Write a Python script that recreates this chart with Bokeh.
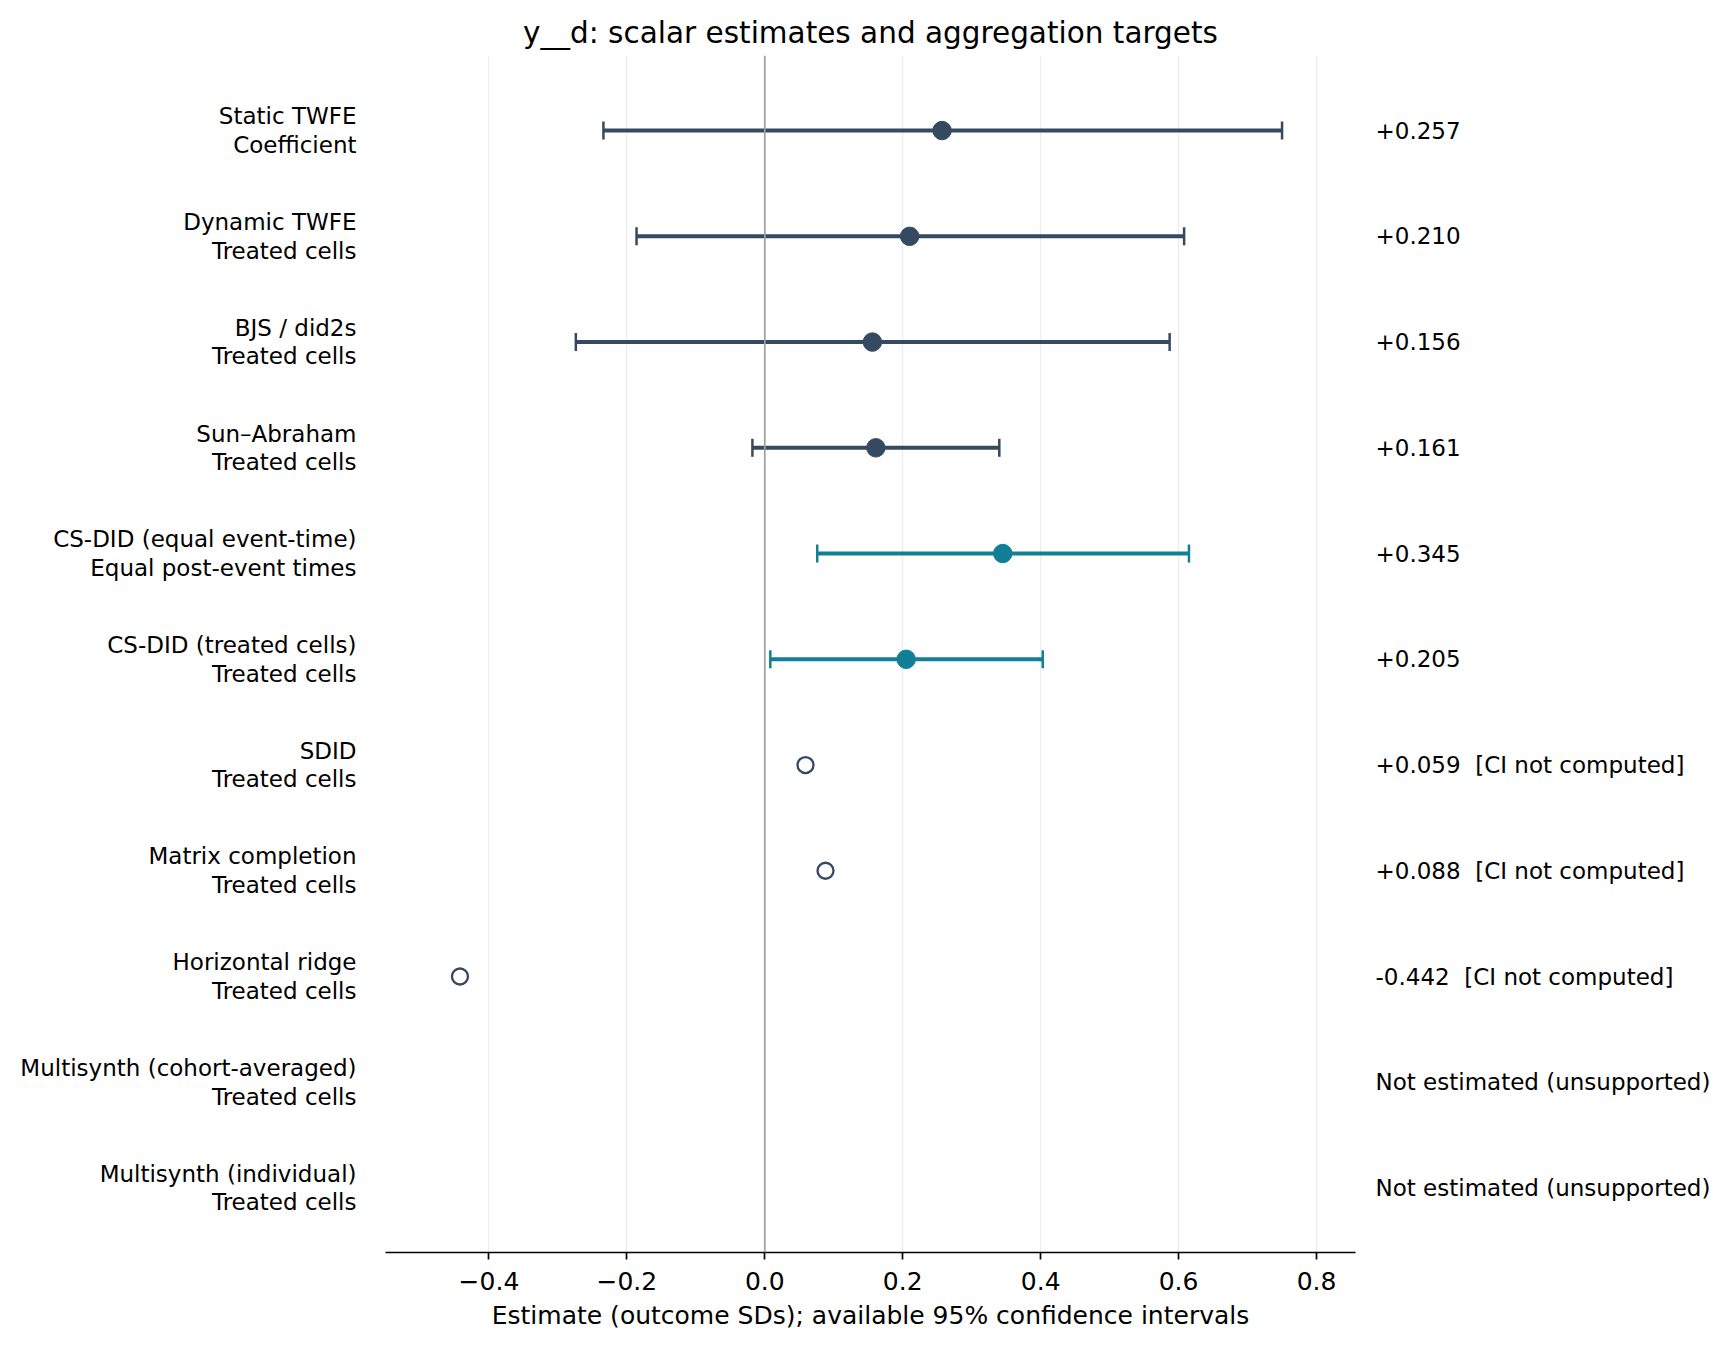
import math
from bokeh.plotting import figure
from bokeh.models import (ColumnDataSource, Range1d, FixedTicker, Span, Whisker,
                          TeeHead, LinearAxis)
from bokeh.embed import file_html
from bokeh.resources import INLINE

nan = float("nan")

# ---- data ----
methods = ["Static TWFE", "Dynamic TWFE", "BJS / did2s", "Sun\u2013Abraham",
           "CS-DID (equal event-time)", "CS-DID (treated cells)", "SDID",
           "Matrix completion", "Horizontal ridge",
           "Multisynth (cohort-averaged)", "Multisynth (individual)"]
targets = ["Coefficient", "Treated cells", "Treated cells", "Treated cells",
           "Equal post-event times", "Treated cells", "Treated cells",
           "Treated cells", "Treated cells", "Treated cells", "Treated cells"]
estimates = [0.257, 0.210, 0.156, 0.161, 0.345, 0.205, 0.059, 0.088, -0.442, nan, nan]
ci_low = [-0.234, -0.186, -0.274, -0.018, 0.076, 0.008, nan, nan, nan, nan, nan]
ci_high = [0.750, 0.608, 0.587, 0.340, 0.615, 0.403, nan, nan, nan, nan, nan]
family = ["twfe", "twfe", "twfe", "twfe", "cs", "cs", "other", "other", "other", "other", "other"]
x_ticks = [-0.4, -0.2, 0.0, 0.2, 0.4, 0.6, 0.8]

DARK = "#354a60"
TEAL = "#127f96"
family_color = {"twfe": DARK, "cs": TEAL, "other": DARK}
FONT = "DejaVu Sans"

rows = list(range(len(methods)))

ci_idx = [i for i in rows if not math.isnan(ci_low[i])]
open_idx = [i for i in rows if math.isnan(ci_low[i]) and not math.isnan(estimates[i])]

ci_src = ColumnDataSource(dict(
    y=[rows[i] for i in ci_idx],
    est=[estimates[i] for i in ci_idx],
    lo=[ci_low[i] for i in ci_idx],
    hi=[ci_high[i] for i in ci_idx],
    color=[family_color[family[i]] for i in ci_idx],
))
open_src = ColumnDataSource(dict(
    y=[rows[i] for i in open_idx],
    est=[estimates[i] for i in open_idx],
))


def right_text(i):
    e = estimates[i]
    if math.isnan(e):
        return "Not estimated (unsupported)"
    s = f"{e:+.3f}"
    if math.isnan(ci_low[i]):
        s += " \u00a0[CI not computed]"
    return s


X0, X1 = -0.550, 0.8565
p = figure(width=1727, height=1348, output_backend="svg", toolbar_location=None,
           x_range=Range1d(X0, X1), y_range=Range1d(10.61, -0.71),
           min_border_left=385, min_border_right=372, min_border_top=55,
           min_border_bottom=96)
p.outline_line_color = None
p.background_fill_color = "white"
p.border_fill_color = "white"

p.title.text = "y__d: scalar estimates and aggregation targets"
p.title.text_font = FONT
p.title.text_font_size = "29.5px"
p.title.text_font_style = "normal"
p.title.text_color = "black"
p.title.align = "center"
p.title.standoff = 12

# grid
p.ygrid.grid_line_color = None
p.xgrid.ticker = FixedTicker(ticks=x_ticks)
p.xgrid.grid_line_color = "#eeeeee"
p.xgrid.grid_line_width = 1.5

# x axis
xa = p.xaxis[0]
xa.ticker = FixedTicker(ticks=x_ticks)
xa.major_label_overrides = {t: (f"{t:.1f}".replace("-", "\u2212")) for t in x_ticks}
xa.axis_label = "Estimate (outcome SDs); available 95% confidence intervals"
xa.axis_label_text_font = FONT
xa.axis_label_text_font_size = "25px"
xa.axis_label_text_font_style = "normal"
xa.axis_label_text_color = "black"
xa.axis_label_standoff = 8
xa.major_label_text_font = FONT
xa.major_label_text_font_size = "25px"
xa.major_label_text_color = "black"
xa.major_label_standoff = 12
xa.axis_line_color = "black"
xa.axis_line_width = 1.7
xa.major_tick_line_color = "black"
xa.major_tick_line_width = 1.7
xa.major_tick_out = 7
xa.major_tick_in = 0
xa.minor_tick_line_color = None

# y axis (method / target labels)
ya = p.yaxis[0]
ya.ticker = FixedTicker(ticks=rows)
ya.major_label_overrides = {i: f"{methods[i]}\n{targets[i]}" for i in rows}
ya.major_label_text_font = FONT
ya.major_label_text_font_size = "23px"
ya.major_label_text_color = "black"
ya.major_label_text_line_height = 1.1
ya.major_label_standoff = 29
ya.axis_line_color = None
ya.major_tick_line_color = None
ya.minor_tick_line_color = None
ya.major_tick_out = 0

# right axis carrying the estimate texts
ra = LinearAxis(ticker=FixedTicker(ticks=rows),
                major_label_overrides={i: right_text(i) for i in rows})
ra.major_label_text_font = FONT
ra.major_label_text_font_size = "23px"
ra.major_label_text_color = "black"
ra.major_label_standoff = 20
ra.axis_line_color = None
ra.major_tick_line_color = None
ra.minor_tick_line_color = None
ra.major_tick_out = 0
ra.major_tick_in = 0
p.add_layout(ra, "right")

# zero line
p.add_layout(Span(location=0, dimension="height", line_color="#a0a0a0", line_width=1.7))

# error bars
p.segment(x0="lo", x1="hi", y0="y", y1="y", source=ci_src, line_color="color", line_width=4)
wh = Whisker(base="y", lower="lo", upper="hi", dimension="width", source=ci_src,
             line_alpha=0,
             lower_head=TeeHead(size=18, line_width=2.5, line_color={"field": "color"}),
             upper_head=TeeHead(size=18, line_width=2.5, line_color={"field": "color"}))
p.add_layout(wh)

p.scatter(x="est", y="y", source=ci_src, size=18.5, fill_color="color", line_color="color",
          line_width=1, marker="circle")
p.scatter(x="est", y="y", source=open_src, size=16, fill_color="white",
          line_color=DARK, line_width=2.3, marker="circle")

open("out.html", "w").write(file_html(p, INLINE))
